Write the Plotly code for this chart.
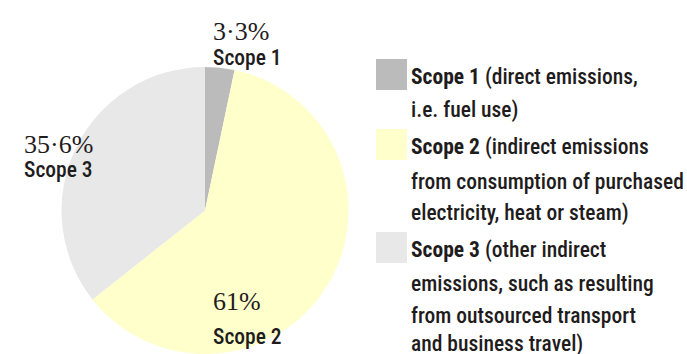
import plotly.graph_objects as go

# Emission shares by scope
scopes = ["Scope 1", "Scope 2", "Scope 3"]
shares = [3.3, 61.0, 35.6]
share_labels = ["3·3%", "61%", "35·6%"]
colors = ["#bbbbbb", "#ffffcc", "#e8e8e8"]

# Legend descriptions (one list of lines per scope; first line follows the bold name)
legend_lines = [
    ["(direct emissions,", "i.e. fuel use)"],
    ["(indirect emissions", "from consumption of purchased", "electricity, heat or steam)"],
    ["(other indirect", "emissions, such as resulting", "from outsourced transport", "and business travel)"],
]

W, H = 687, 354
SANS = "Roboto Condensed, DejaVu Sans Condensed, Roboto, sans-serif"
SERIF = "Liberation Serif, DejaVu Serif, serif"
INK = "#1f1c1d"

fig = go.Figure(go.Pie(
    labels=scopes,
    values=shares,
    marker=dict(colors=colors, line=dict(width=0)),
    sort=False,
    direction="clockwise",
    rotation=0,
    textinfo="none",
    hoverinfo="label+percent",
    showlegend=False,
    domain=dict(x=[61 / W, 349 / W], y=[0, 287 / H]),
))


def px_x(x):
    return x / W


def px_y(y):
    return 1 - y / H


ann = []
# Slice labels: share in serif, scope name in sans underneath
slice_pos = {"Scope 1": (211, 31, 57), "Scope 2": (211, 301, 336), "Scope 3": (22, 144, 169)}
for name, lab in zip(scopes, share_labels):
    x, yv, yn = slice_pos[name]
    ann.append(dict(x=px_x(x), y=px_y(yv), text=lab, showarrow=False, xanchor="left",
                    yanchor="middle", font=dict(family=SERIF, size=26, color=INK)))
    ann.append(dict(x=px_x(x), y=px_y(yn), text=name, showarrow=False, xanchor="left",
                    yanchor="middle", font=dict(family=SANS, size=21.5, color=INK, weight=500)))

# Custom legend: colour squares and wrapped text lines
shapes = []
square_tops = [59, 129, 232]
line_centers = [[77, 110], [147, 181, 213], [250, 283, 315, 344]]
for i, name in enumerate(scopes):
    t = square_tops[i]
    shapes.append(dict(type="rect", xref="paper", yref="paper",
                       x0=px_x(376), x1=px_x(407), y0=px_y(t + 31), y1=px_y(t),
                       fillcolor=colors[i], line=dict(width=0)))
    for j, line in enumerate(legend_lines[i]):
        text = f"<b>{name}</b> {line}" if j == 0 else line
        ann.append(dict(x=px_x(409), y=px_y(line_centers[i][j]), text=text, showarrow=False,
                        xanchor="left", yanchor="middle",
                        font=dict(family=SANS, size=21.5, color=INK, weight=500)))

fig.update_layout(
    width=W, height=H,
    margin=dict(l=0, r=0, t=0, b=0),
    paper_bgcolor="white",
    plot_bgcolor="white",
    annotations=ann,
    shapes=shapes,
)

fig.write_html("out.html")
